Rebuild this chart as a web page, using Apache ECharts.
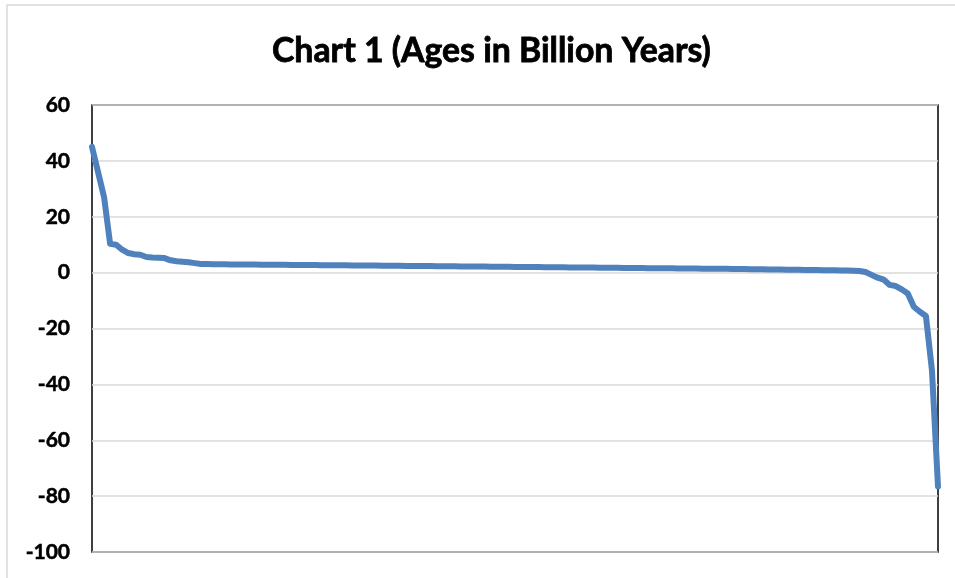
<!DOCTYPE html>
<html>
<head>
<meta charset="utf-8">
<script src="https://cdn.jsdelivr.net/npm/echarts@6/dist/echarts.min.js"></script>
<style>
html,body{margin:0;padding:0;background:#fff;}
#chart{width:955px;height:578px;}
</style>
</head>
<body>
<div id="chart"></div>
<script>
const titleText = 'Chart 1 (Ages in Billion Years)';
const yTicks = { min: -100, max: 60, interval: 20 };
const headValues = [45, 36, 27, 10.3, 10, 8.2, 7, 6.6, 6.4, 5.6, 5.4, 5.3, 5.2, 4.4, 4.1, 3.9, 3.7, 3.4, 3.1, 3.05];
const middleValues = [
  3.00, 2.98, 2.96, 2.95, 2.93, 2.91, 2.89, 2.88, 2.86, 2.84,
  2.82, 2.81, 2.79, 2.77, 2.75, 2.74, 2.72, 2.70, 2.68, 2.66,
  2.64, 2.62, 2.61, 2.59, 2.57, 2.55, 2.53, 2.51, 2.49, 2.47,
  2.45, 2.43, 2.41, 2.39, 2.37, 2.35, 2.33, 2.31, 2.29, 2.27,
  2.25, 2.23, 2.21, 2.19, 2.17, 2.15, 2.13, 2.11, 2.09, 2.07,
  2.05, 2.03, 2.01, 1.99, 1.97, 1.95, 1.93, 1.91, 1.89, 1.87,
  1.85, 1.83, 1.81, 1.79, 1.77, 1.75, 1.73, 1.71, 1.69, 1.67,
  1.65, 1.63, 1.61, 1.59, 1.57, 1.55, 1.53, 1.51, 1.49, 1.47,
  1.45, 1.43, 1.41, 1.39, 1.37, 1.35, 1.33, 1.31, 1.28, 1.25,
  1.22, 1.19, 1.16, 1.13, 1.10, 1.07, 1.04, 1.01, 0.98, 0.95,
  0.92, 0.89, 0.86, 0.83, 0.80, 0.76
];
const tailValues = [0.7, 0.6, 0.2, -0.8, -1.8, -2.5, -4.4, -4.8, -6.0, -7.5, -12.2, -14.0, -15.5, -35, -76.5];
const values = headValues.concat(middleValues, tailValues);
const categories = values.map((v, i) => String(i + 1));

const chart = echarts.init(document.getElementById('chart'));
chart.setOption({
  animation: false,
  backgroundColor: '#fff',
  title: {
    text: titleText,
    left: 267,
    top: 29,
    textStyle: { fontFamily: 'Lato', fontWeight: 'bold', fontSize: 33.8, color: '#000', textBorderColor: '#000', textBorderWidth: 0.8 }
  },
  graphic: [{
    type: 'rect',
    shape: { x: 7, y: 5, width: 1000, height: 700 },
    style: { fill: 'none', stroke: '#d9d9d9', lineWidth: 1.5 },
    silent: true
  }],
  grid: {
    left: 92, right: 17, top: 105, bottom: 26,
    show: true, borderColor: '#000', borderWidth: 1.5, backgroundColor: 'transparent'
  },
  xAxis: {
    type: 'category',
    data: categories,
    boundaryGap: false,
    axisLine: { show: false },
    axisTick: { show: false },
    axisLabel: { show: false },
    splitLine: { show: false }
  },
  yAxis: {
    type: 'value',
    min: yTicks.min, max: yTicks.max, interval: yTicks.interval,
    axisLine: { show: false },
    axisTick: { show: false },
    axisLabel: { fontFamily: 'Lato', fontWeight: 'bold', fontSize: 21, color: '#000', margin: 22, textBorderColor: '#000', textBorderWidth: 0.5 },
    splitLine: { lineStyle: { color: '#d9d9d9', width: 1.5 } }
  },
  series: [{
    type: 'line',
    data: values,
    showSymbol: false,
    symbol: 'none',
    lineStyle: { color: '#4f81bd', width: 6, join: 'round', cap: 'round' }
  }]
});
</script>
</body>
</html>
